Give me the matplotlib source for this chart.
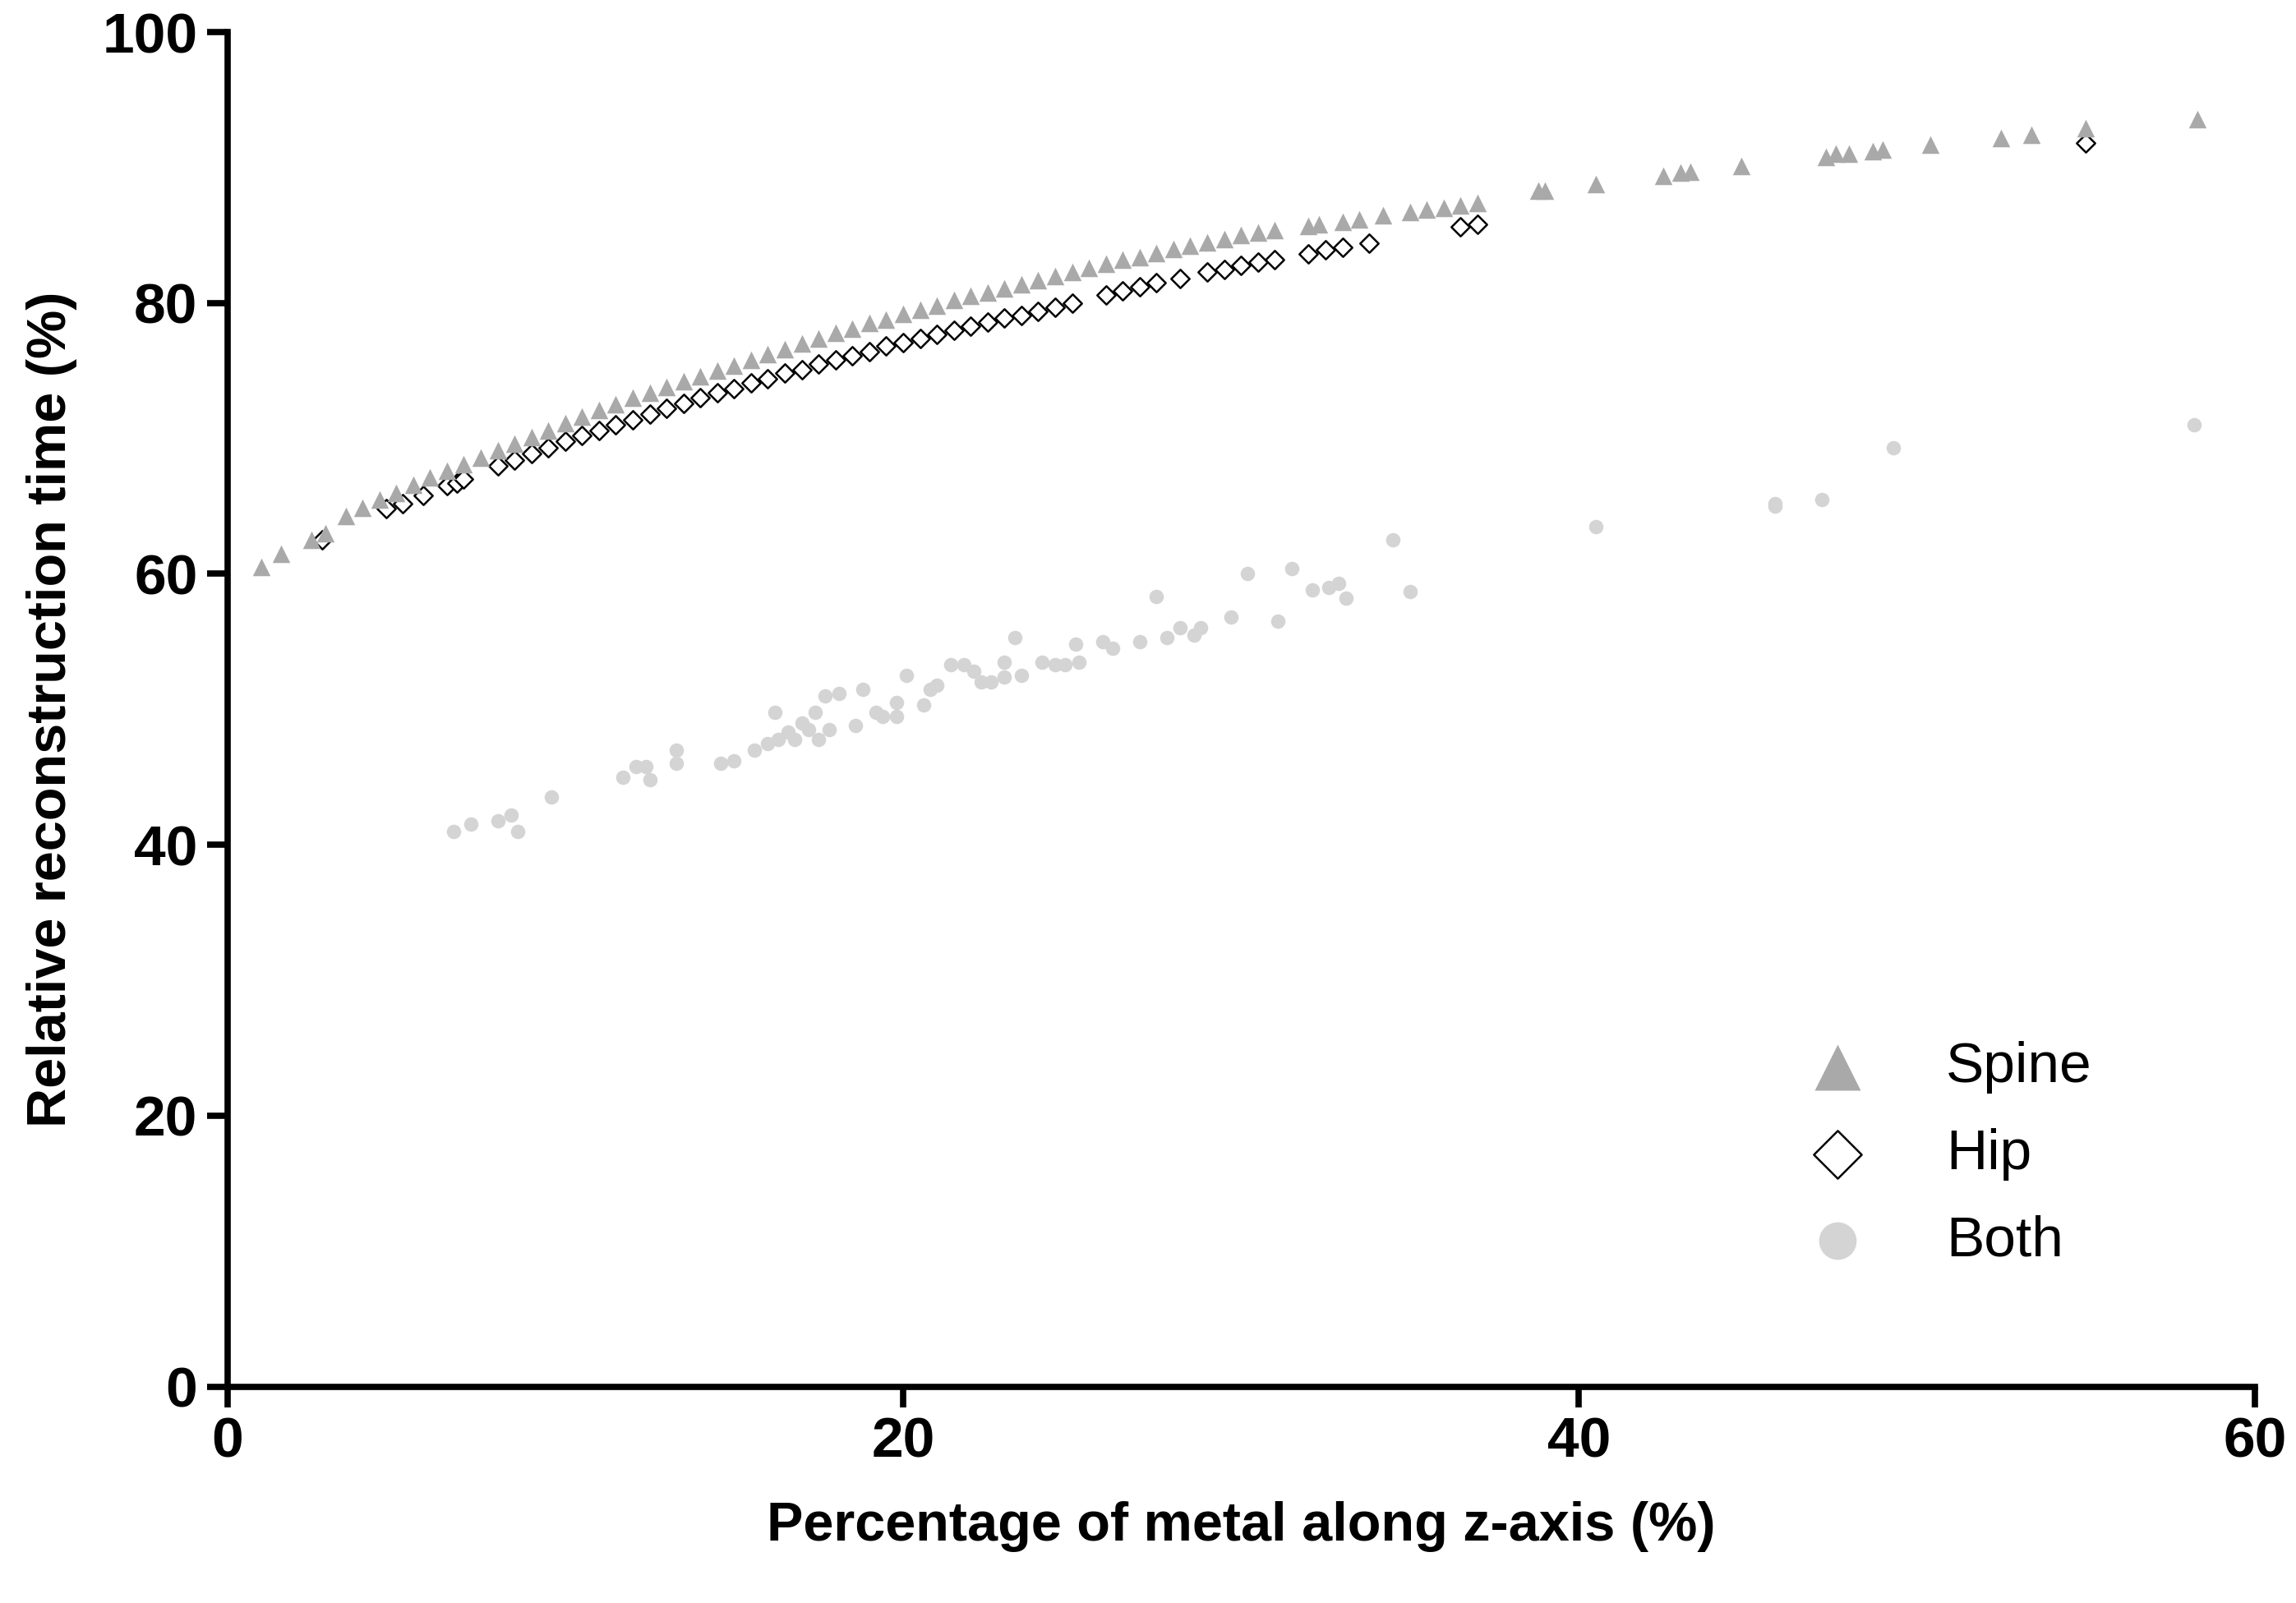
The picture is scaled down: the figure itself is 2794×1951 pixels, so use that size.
import matplotlib
matplotlib.use("Agg")
import matplotlib.pyplot as plt

spine_x = [1, 1.6, 2.5, 2.9,
           3.5, 4, 4.5, 5, 5.5, 6, 6.5, 7, 7.5, 8, 8.5, 9, 9.5, 10, 10.5, 11, 11.5, 12, 12.5, 13,
           13.5, 14, 14.5, 15, 15.5, 16, 16.5, 17, 17.5, 18, 18.5, 19, 19.5, 20, 20.5, 21, 21.5,
           22, 22.5, 23, 23.5, 24, 24.5, 25, 25.5, 26, 26.5, 27, 27.5, 28, 28.5, 29, 29.5, 30, 30.5, 31,
           32, 32.3, 33, 33.5, 34.2, 35, 35.5, 36, 36.5, 37, 38.8, 39, 40.5, 42.5, 43, 43.3, 44.8,
           47.3, 47.6, 48, 48.7, 49, 50.4, 52.5, 53.4, 55, 58.3]
spine_y = [60.5, 61.5, 62.5, 63,
           64.3, 64.9, 65.5, 66.0, 66.6, 67.1, 67.6, 68.1, 68.6, 69.1, 69.6, 70.1, 70.6, 71.1, 71.6, 72.1,
           72.5, 73.0, 73.4, 73.8, 74.2, 74.6, 75.0, 75.4, 75.8, 76.2, 76.6, 77.0, 77.4, 77.8, 78.1, 78.5,
           78.8, 79.2, 79.5, 79.8, 80.2, 80.5, 80.8, 81.1, 81.4, 81.7, 82.0, 82.3, 82.6, 82.9, 83.2, 83.4,
           83.7, 84.0, 84.2, 84.5, 84.7, 85.0, 85.2, 85.4,
           85.7, 85.8, 86.0, 86.2, 86.5, 86.7, 86.9, 87.0, 87.2, 87.4, 88.3, 88.3, 88.8, 89.4, 89.6, 89.7, 90.1,
           90.8, 91.0, 91.0, 91.2, 91.3, 91.7, 92.2, 92.4, 92.9, 93.6]

hip_x = [2.8, 4.7, 5.2, 5.8, 6.5, 6.8, 7.0, 8,
         8.5, 9, 9.5, 10, 10.5, 11, 11.5, 12, 12.5, 13, 13.5, 14, 14.5, 15, 15.5, 16, 16.5, 17, 17.5,
         18, 18.5, 19, 19.5, 20, 20.5, 21, 21.5, 22, 22.5, 23, 23.5, 24, 24.5, 25, 26, 26.5, 27, 27.5,
         28.2, 29, 29.5, 30, 30.5, 31, 32, 32.5, 33, 33.8, 36.5, 37, 55]
hip_y = [62.5, 64.8, 65.2, 65.8, 66.5, 66.7, 67.0, 68.0,
         68.4, 68.9, 69.3, 69.8, 70.2, 70.6, 71.0, 71.4, 71.8, 72.2, 72.6, 73.0, 73.4, 73.7, 74.1, 74.4,
         74.8, 75.1, 75.5, 75.8, 76.1, 76.4, 76.8, 77.1, 77.4, 77.7, 78.0, 78.3, 78.6, 78.9, 79.1, 79.4,
         79.7, 80.0, 80.6, 80.9, 81.2, 81.5, 81.8, 82.3, 82.5, 82.8, 83.0, 83.2, 83.6, 83.9, 84.1, 84.4,
         85.6, 85.8, 91.8]

both_x = [6.7, 7.2, 8, 8.4, 8.6, 9.6, 11.7, 12.1, 12.4, 12.5, 13.3, 13.3, 14.6, 15, 15.6, 16, 16.2,
          16.3, 16.6, 16.8, 17, 17.2, 17.4, 17.5, 17.8, 17.7, 18.1, 18.8, 18.6, 19.2, 19.4, 19.8, 19.8,
          20.1, 20.6, 20.8, 21, 21.4, 21.8, 22.1, 22.3, 22.6, 23, 23, 23.3, 23.5, 24.1, 24.5, 24.8, 25.1,
          25.2, 25.9, 26.2, 27, 27.5, 27.8, 28.2, 28.6, 28.8, 29.7, 30.2, 31.1, 31.5, 32.1, 32.6, 32.9,
          33.1, 34.5, 35, 40.5, 45.8, 45.8, 47.2, 49.3, 58.2]
both_y = [41, 41.5, 41.8, 42.2, 41, 43.5, 45, 45.8, 45.8, 44.8, 47, 46, 46, 46.2, 47, 47.5, 49.8,
          47.8, 48.3, 47.8, 49, 48.5, 49.8, 47.8, 48.5, 51, 51.2, 51.5, 48.8, 49.8, 49.5, 50.5, 49.5,
          52.5, 50.3, 51.5, 51.8, 53.3, 53.3, 52.8, 52, 52, 53.5, 52.4, 55.3, 52.5, 53.5, 53.3, 53.3, 54.8,
          53.5, 55, 54.5, 55, 58.3, 55.3, 56, 55.5, 56, 56.8, 60, 56.5, 60.4, 58.8, 59, 59.3,
          58.2, 62.5, 58.7, 63.5, 65, 65.2, 65.5, 69.3, 71]

plt.rcParams["font.family"] = ["Liberation Sans", "DejaVu Sans"]

fig = plt.figure(figsize=(27.94, 19.51), dpi=100)
ax = fig.add_axes([0.099, 0.135, 0.883, 0.845])

ax.scatter(both_x, both_y, s=160, marker="o", color="#d4d4d4", linewidths=0, label="Both", zorder=2)
ax.scatter(hip_x, hip_y, s=130, marker="D", facecolor="white", edgecolor="black", linewidths=1.8,
           label="Hip", zorder=3)
ax.scatter(spine_x, spine_y, s=240, marker="^", color="#a9a9a9", linewidths=0, label="Spine", zorder=4)

ax.set_xlim(0, 60)
ax.set_ylim(0, 100)
ax.set_xticks([0, 20, 40, 60])
ax.set_yticks([0, 20, 40, 60, 80, 100])
for side in ("top", "right"):
    ax.spines[side].set_visible(False)
for side in ("left", "bottom"):
    ax.spines[side].set_linewidth(5.5)
ax.tick_params(width=5.5, length=18, labelsize=50, pad=8)
for lab in ax.get_xticklabels() + ax.get_yticklabels():
    lab.set_fontweight("bold")

ax.set_xlabel("Percentage of metal along z-axis (%)", fontsize=48, fontweight="bold", labelpad=28)
ax.set_ylabel("Relative reconstruction time (%)", fontsize=48, fontweight="bold", labelpad=22)

handles, labels = ax.get_legend_handles_labels()
order = [2, 1, 0]
ax.legend([handles[i] for i in order], [labels[i] for i in order], loc="lower right",
          bbox_to_anchor=(0.945, 0.05), frameon=False, fontsize=50, markerscale=2.6,
          handletextpad=0.9, labelspacing=0.6)

fig.savefig("out.png", dpi=100)
